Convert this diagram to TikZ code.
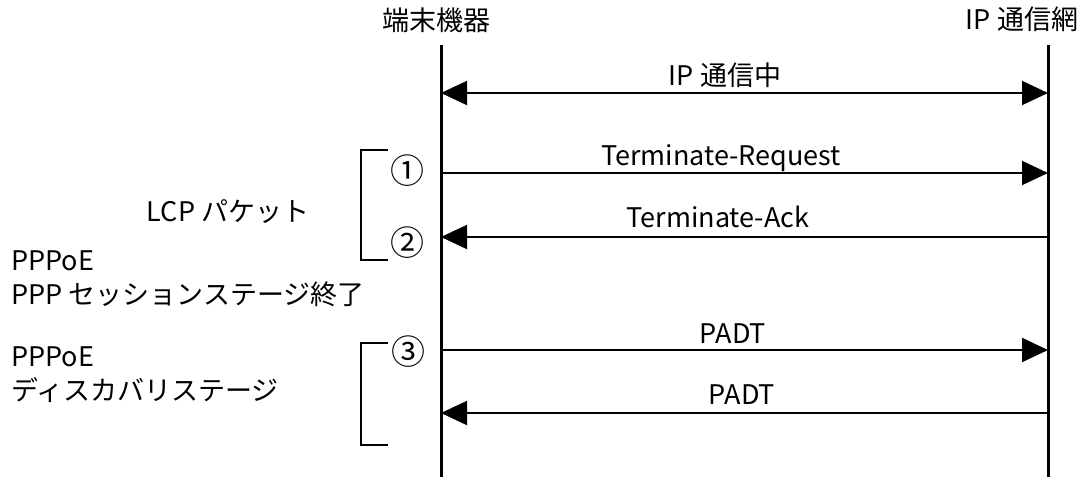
\documentclass[tikz,border=0pt]{standalone}
\usepackage{fontspec}
\setmainfont{Noto Sans CJK JP}
\usetikzlibrary{arrows.meta}
\tikzset{
  lbl/.style={font=\fontsize{13.5}{16}\selectfont, inner sep=0pt, text height=0.88em, text depth=0.12em},
  num/.style={lbl, font=\fontsize{17}{19}\selectfont},
  life/.style={line width=1.5pt},
  msg/.style={line width=1pt, -{Triangle[length=13pt, width=12pt]}},
  bimsg/.style={line width=1pt, {Triangle[length=13pt, width=12pt]}-{Triangle[length=13pt, width=12pt]}},
  brkt/.style={line width=1.2pt}
}
\begin{document}
\begin{tikzpicture}[x=0.5pt, y=-0.5pt]
    \useasboundingbox (0,0) rectangle (1082,477);
    % lifelines
    \node at (436,23) [lbl] (DEV) {端末機器};
    \node at (1022,22) [lbl] (NET) {IP 通信網};
    \coordinate (DT) at (441,45);
    \coordinate (DB) at (441,477);
    \coordinate (NT) at (1048,45);
    \coordinate (NB) at (1048,477);
    \draw[life] (DT) -- (DB);
    \draw[life] (NT) -- (NB);
    % messages
    \coordinate (D1) at (441,93);   \coordinate (N1) at (1048,93);
    \coordinate (D2) at (441,173);  \coordinate (N2) at (1048,173);
    \coordinate (D3) at (441,237);  \coordinate (N3) at (1048,237);
    \coordinate (D4) at (441,350);  \coordinate (N4) at (1048,350);
    \coordinate (D5) at (441,413);  \coordinate (N5) at (1048,413);
    \draw[bimsg] (D1) -- (N1);
    \draw[msg] (D2) -- (N2);
    \draw[msg] (N3) -- (D3);
    \draw[msg] (D4) -- (N4);
    \draw[msg] (N5) -- (D5);
    \node at (725,78) [lbl] (M1) {IP 通信中};
    \node at (721,158) [lbl] (M2) {Terminate-Request};
    \node at (718,220) [lbl] (M3) {Terminate-Ack};
    \node at (733,336) [lbl] (M4) {PADT};
    \node at (742,397) [lbl] (M5) {PADT};
    % step numbers
    \node at (407,176) [num] (S1) {①};
    \node at (407,248) [num] (S2) {②};
    \node at (408,357) [num] (S3) {③};
    % brackets
    \draw[brkt] (388,150) -- (361,150) -- (361,260) -- (388,260);
    \draw[brkt] (388,343) -- (361,343) -- (361,445) -- (388,445);
    % phase texts
    \node at (228,214) [lbl] (LCP) {LCP パケット};
    \node at (11,263) [lbl, anchor=west] (PPPOE1) {PPPoE};
    \node at (11,297) [lbl, anchor=west] (SESS) {PPP セッションステージ終了};
    \node at (11,359) [lbl, anchor=west] (PPPOE2) {PPPoE};
    \node at (11,393) [lbl, anchor=west] (DISC) {ディスカバリステージ};
\end{tikzpicture}
\end{document}
